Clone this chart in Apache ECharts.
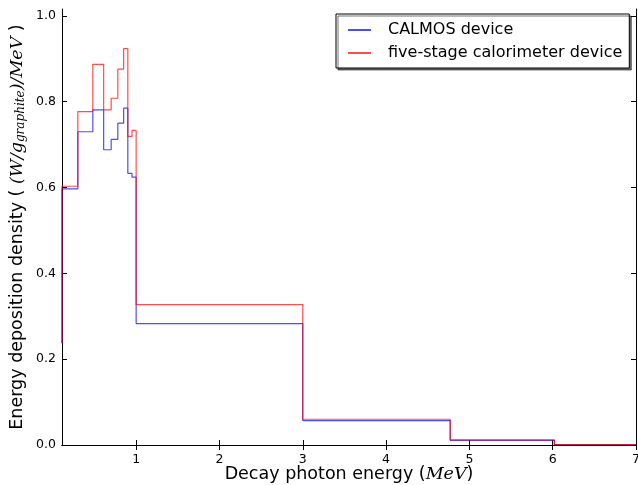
<!DOCTYPE html>
<html>
<head>
<meta charset="utf-8">
<script src="https://cdn.jsdelivr.net/npm/echarts@6/dist/echarts.min.js"></script>
<style>
html,body{margin:0;padding:0;background:#fff;}
#chart{width:638px;height:485px;}
</style>
</head>
<body>
<div id="chart"></div>
<script>
// bin edges (MeV), one more than values
const edges = [0.11, 0.11, 0.30, 0.48, 0.61, 0.70, 0.78, 0.85, 0.90, 0.95, 1.00, 3.00, 4.77, 6.02, 7.00];
const calmos = [0.237, 0.597, 0.730, 0.781, 0.688, 0.712, 0.750, 0.785, 0.633, 0.624, 0.283, 0.057, 0.011, 0.001];
const fiveStage = [0.237, 0.603, 0.777, 0.887, 0.781, 0.808, 0.876, 0.924, 0.719, 0.733, 0.327, 0.060, 0.012, 0.001];
const seriesNames = ['CALMOS device', 'five-stage calorimeter device'];
const xTicks = [1, 2, 3, 4, 5, 6, 7];
const yTicks = [0, 0.2, 0.4, 0.6, 0.8, 1.0];

function toStep(vals) {
  const pts = vals.map((v, i) => [edges[i], v]);
  pts.push([edges[edges.length - 1], vals[vals.length - 1]]);
  return pts;
}

const FONT = 'DejaVu Sans';
const tickStyle = { inside: true, length: 5, lineStyle: { color: '#000', width: 1 } };

const chart = echarts.init(document.getElementById('chart'), null, { renderer: 'canvas' });
chart.setOption({
  animation: false,
  backgroundColor: '#fff',
  textStyle: { fontFamily: FONT },
  grid: { left: 62, right: 2, top: 9, bottom: 40, containLabel: false, outerBoundsMode: 'none' },
  legend: {
    orient: 'vertical',
    left: 336, top: 14,
    padding: [8, 7, 7, 11],
    itemWidth: 23, itemHeight: 14, itemGap: 7,
    backgroundColor: '#fff',
    borderColor: '#000', borderWidth: 1, borderRadius: 0,
    shadowColor: 'rgba(0,0,0,0.55)', shadowOffsetX: 2, shadowOffsetY: 2, shadowBlur: 0,
    itemStyle: { opacity: 0, borderWidth: 0 },
    textStyle: { fontFamily: FONT, fontSize: 16, color: '#000', padding: [0, 0, 0, 12] },
    data: seriesNames
  },
  xAxis: [{
    type: 'value', min: 0.11, max: 7,
    name: '{n|Decay photon energy (}{m|MeV}{n|)}',
    nameLocation: 'middle', nameGap: 20, nameMoveOverlap: false,
    nameTextStyle: { rich: {
      n: { fontFamily: FONT, fontSize: 17.5, color: '#000' },
      m: { fontFamily: 'DejaVu Serif', fontStyle: 'italic', fontSize: 17.5, color: '#000' }
    } },
    axisLine: { show: true, lineStyle: { color: '#000', width: 1 } },
    axisTick: Object.assign({ customValues: xTicks }, tickStyle),
    axisLabel: { customValues: xTicks, fontSize: 12.5, color: '#000', fontFamily: FONT, margin: 8 },
    splitLine: { show: false }
  }, {
    type: 'value', min: 0.11, max: 7, position: 'top',
    axisLine: { show: true, lineStyle: { color: '#000', width: 1 } },
    axisTick: Object.assign({ customValues: xTicks }, tickStyle),
    axisLabel: { show: false },
    splitLine: { show: false }
  }],
  yAxis: [{
    type: 'value', min: 0, max: 1.016,
    name: '{n|Energy deposition density ( }{m|(W/g}{s|graphite}{m|)/MeV}{n| )}',
    nameLocation: 'middle', nameGap: 35, nameRotate: 90, nameMoveOverlap: false,
    nameTextStyle: { rich: {
      n: { fontFamily: FONT, fontSize: 17.5, color: '#000' },
      m: { fontFamily: 'DejaVu Serif', fontStyle: 'italic', fontSize: 17.5, color: '#000' },
      s: { fontFamily: 'DejaVu Serif', fontStyle: 'italic', fontSize: 12, color: '#000', padding: [7, 0, 0, 0] }
    } },
    axisLine: { show: true, lineStyle: { color: '#000', width: 1 } },
    axisTick: Object.assign({ customValues: yTicks }, tickStyle),
    axisLabel: { customValues: yTicks, fontSize: 12.5, color: '#000', fontFamily: FONT, margin: 6,
      formatter: v => v.toFixed(1) },
    splitLine: { show: false }
  }, {
    type: 'value', min: 0, max: 1.016, position: 'right',
    axisLine: { show: true, lineStyle: { color: '#000', width: 1 } },
    axisTick: Object.assign({ customValues: yTicks }, tickStyle),
    axisLabel: { show: false },
    splitLine: { show: false }
  }],
  series: [{
    name: seriesNames[0], type: 'line', step: 'end',
    xAxisIndex: 0, yAxisIndex: 0,
    symbol: 'none', showSymbol: false,
    color: 'rgba(0,0,255,0.7)',
    lineStyle: { color: 'rgba(0,0,255,0.7)', width: 1.2 },
    data: toStep(calmos)
  }, {
    name: seriesNames[1], type: 'line', step: 'end',
    xAxisIndex: 0, yAxisIndex: 0,
    symbol: 'none', showSymbol: false,
    color: 'rgba(255,0,0,0.7)',
    lineStyle: { color: 'rgba(255,0,0,0.7)', width: 1.2 },
    data: toStep(fiveStage)
  }]
});
</script>
</body>
</html>
